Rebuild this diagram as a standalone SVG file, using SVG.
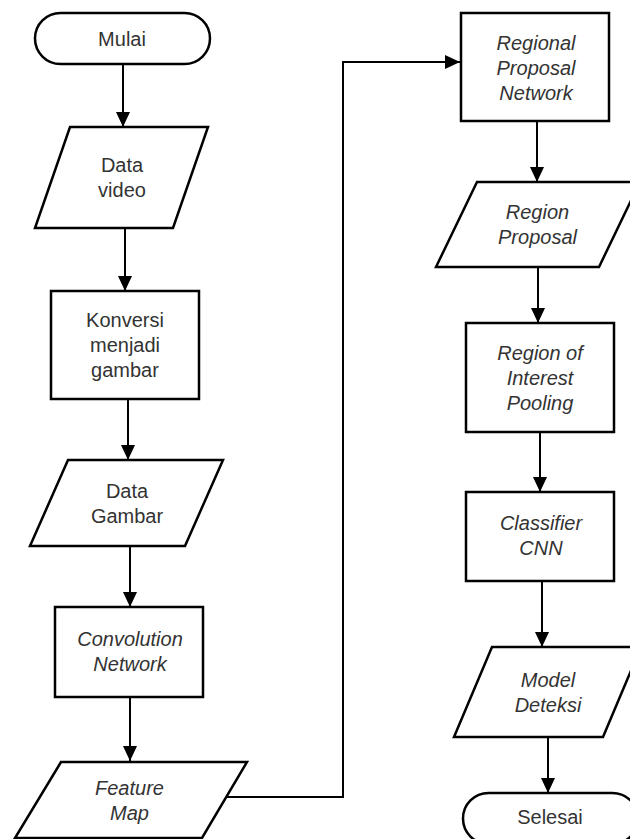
<svg xmlns="http://www.w3.org/2000/svg" width="630" height="839" viewBox="0 0 630 839">
<style>
.s{fill:#fff;stroke:#000;stroke-width:2.5}
.t{font-family:"Liberation Sans",Arial,sans-serif;font-size:20px;fill:#333;text-anchor:middle}
.i{font-style:italic}
.c{fill:none;stroke:#000;stroke-width:2}
</style>
<defs>
<marker id="ah" viewBox="0 0 15 14" refX="15" refY="7" markerWidth="15" markerHeight="14" markerUnits="userSpaceOnUse" orient="auto">
<path d="M0,0 L15,7 L0,14 Z" fill="#000"/>
</marker>
</defs>
<rect width="630" height="839" fill="#fff"/>
<g id="connectors">
<line class="c" x1="123" y1="64" x2="123" y2="127" marker-end="url(#ah)"/>
<line class="c" x1="125" y1="228" x2="125" y2="291" marker-end="url(#ah)"/>
<line class="c" x1="128" y1="399" x2="128" y2="460" marker-end="url(#ah)"/>
<line class="c" x1="130" y1="546" x2="130" y2="607" marker-end="url(#ah)"/>
<line class="c" x1="130" y1="697" x2="130" y2="761" marker-end="url(#ah)"/>
<polyline class="c" points="226,797 343,797 343,62 460,62" marker-end="url(#ah)"/>
<line class="c" x1="537" y1="121" x2="537" y2="182" marker-end="url(#ah)"/>
<line class="c" x1="538" y1="264" x2="538" y2="323" marker-end="url(#ah)"/>
<line class="c" x1="540" y1="432" x2="540" y2="492" marker-end="url(#ah)"/>
<line class="c" x1="542" y1="581" x2="542" y2="647" marker-end="url(#ah)"/>
<line class="c" x1="548" y1="735" x2="548" y2="793" marker-end="url(#ah)"/>
</g>
<g id="mulai">
<rect class="s" x="35" y="13" width="175" height="51" rx="25.5" ry="25.5"/>
<text class="t" x="122" y="45.5">Mulai</text>
</g>
<g id="data-video">
<polygon class="s" points="70,127 208,127 173,228 35,228"/>
<text class="t" x="122" y="172">Data</text>
<text class="t" x="122" y="197">video</text>
</g>
<g id="konversi">
<rect class="s" x="51" y="291" width="148" height="108"/>
<text class="t" x="125" y="327">Konversi</text>
<text class="t" x="125" y="352">menjadi</text>
<text class="t" x="125" y="377">gambar</text>
</g>
<g id="data-gambar">
<polygon class="s" points="68,460 223,460 185,546 30,546"/>
<text class="t" x="127" y="497.5">Data</text>
<text class="t" x="127" y="522.5">Gambar</text>
</g>
<g id="convolution">
<rect class="s" x="55" y="607" width="148" height="90"/>
<text class="t i" x="130" y="646">Convolution</text>
<text class="t i" x="130" y="671">Network</text>
</g>
<g id="feature-map">
<polygon class="s" points="61,762 247,762 202,838 15,838"/>
<text class="t i" x="129.5" y="794.5">Feature</text>
<text class="t i" x="129.5" y="819.5">Map</text>
</g>
<g id="rpn">
<rect class="s" x="461" y="13" width="148" height="108"/>
<text class="t i" x="536" y="49.5">Regional</text>
<text class="t i" x="536" y="74.5">Proposal</text>
<text class="t i" x="536" y="99.5">Network</text>
</g>
<g id="region-proposal">
<polygon class="s" points="477,182 640,182 599,267 436,267"/>
<text class="t i" x="537.5" y="219">Region</text>
<text class="t i" x="537.5" y="244">Proposal</text>
</g>
<g id="roi-pooling">
<rect class="s" x="466" y="323" width="148" height="109"/>
<text class="t i" x="540" y="359.5">Region of</text>
<text class="t i" x="540" y="384.5">Interest</text>
<text class="t i" x="540" y="409.5">Pooling</text>
</g>
<g id="classifier">
<rect class="s" x="466" y="492" width="148" height="89"/>
<text class="t i" x="541" y="530">Classifier</text>
<text class="t i" x="541" y="555">CNN</text>
</g>
<g id="model-deteksi">
<polygon class="s" points="492,647 641,647 603,737 454,737"/>
<text class="t i" x="548" y="686.5">Model</text>
<text class="t i" x="548" y="711.5">Deteksi</text>
</g>
<g id="selesai">
<rect class="s" x="463" y="793" width="175" height="51" rx="25.5" ry="25.5"/>
<text class="t" x="550" y="824">Selesai</text>
</g>
</svg>
